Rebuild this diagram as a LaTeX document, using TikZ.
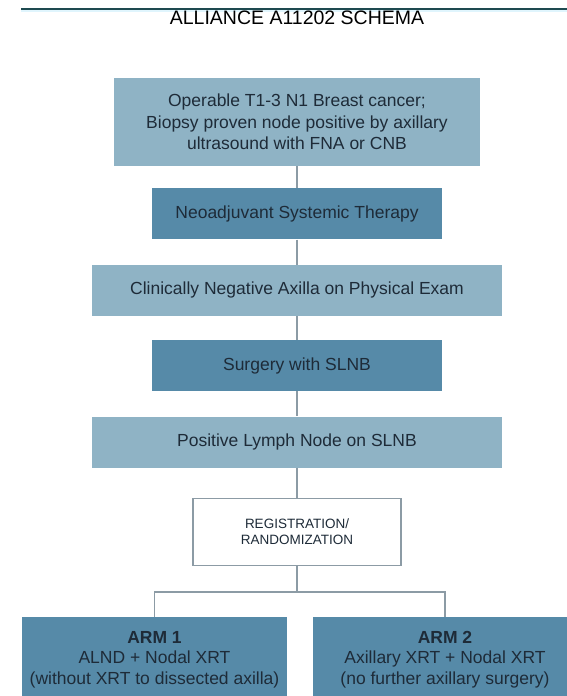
\documentclass[tikz,border=0pt]{standalone}
\usepackage{fontspec}
\setmainfont{Liberation Sans}
\usepackage{tikz}
\usetikzlibrary{positioning,calc}
\definecolor{StageLight}{HTML}{8FB3C5}
\definecolor{StageDark}{HTML}{568AA8}
\definecolor{InkNavy}{HTML}{1E2B38}
\definecolor{LinkGray}{HTML}{8C9BA5}
\definecolor{RuleTeal}{HTML}{1E4A50}

\begin{document}
\begin{tikzpicture}[
        x=1pt, y=-1pt,
        node distance=24pt,
        stagebox/.style={rectangle, inner sep=2pt, text=InkNavy, align=center, font=\fontsize{17.5}{20.5}\selectfont},
        lightbox/.style={stagebox, fill=StageLight, minimum width=410pt, minimum height=51pt},
        darkbox/.style={stagebox, fill=StageDark, minimum width=290pt, minimum height=51pt},
        armbox/.style={stagebox, fill=StageDark, minimum width=265pt, minimum height=81pt, anchor=north, text depth=0pt},
        link/.style={draw=LinkGray, line width=1.8pt}
      ]
        \useasboundingbox (0,0) rectangle (567,696);

        % Header rule and title
        \fill[RuleTeal] (21,8) rectangle (567,10);
        \fill[cyan!12] (21,10) rectangle (567,12);
        \node[text=black, font=\fontsize{19.5}{22}\selectfont] (title) at (297,18) {ALLIANCE A11202 SCHEMA};

        % Stages of the schema
        \node[lightbox, minimum width=366pt, minimum height=88pt, font=\fontsize{17.5}{21.5}\selectfont] (eligible) at (297,122) {
          Operable T1-3 N1 Breast cancer;\\
          Biopsy proven node positive by axillary\\
          ultrasound with FNA or CNB
        };
        \node[darkbox, below=22pt of eligible] (neoadj) {Neoadjuvant Systemic Therapy};
        \node[lightbox, below=25pt of neoadj] (clinneg) {Clinically Negative Axilla on Physical Exam};
        \node[darkbox, below=24pt of clinneg] (surgery) {Surgery with SLNB};
        \node[lightbox, below=25pt of surgery] (posnode) {Positive Lymph Node on SLNB};
        \node[stagebox, draw=LinkGray, line width=1.5pt, fill=white, minimum width=208pt, minimum height=67pt,
              font=\fontsize{13.5}{16}\selectfont, below=30pt of posnode] (register) {
          REGISTRATION/\\
          RANDOMIZATION
        };

        % Two arms
        \node[armbox] (arm1) at (154.5,617) {
          \textbf{ARM 1}\\
          ALND + Nodal XRT\\
          (without XRT to dissected axilla)
        };
        \node[armbox] (arm2) at (445,617) {
          \textbf{ARM 2}\\
          Axillary XRT + Nodal XRT\\
          (no further axillary surgery)
        };

        % Connectors
        \draw[link] (eligible) -- (neoadj);
        \draw[link] (neoadj) -- (clinneg);
        \draw[link] (clinneg) -- (surgery);
        \draw[link] (surgery) -- (posnode);
        \draw[link] (posnode) -- (register);
        \draw[link] (register.south) -- ++(0,26) coordinate (split);
        \draw[link] (split) -| (arm1.north);
        \draw[link] (split) -| (arm2.north);

      \end{tikzpicture}
\end{document}
